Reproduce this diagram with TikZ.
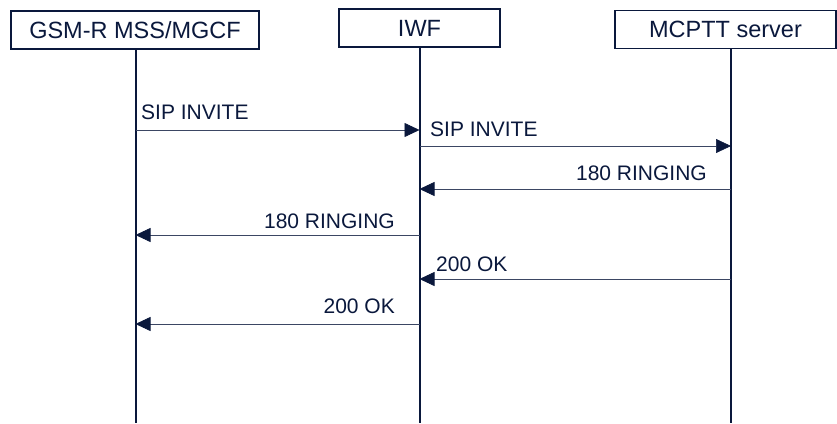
\documentclass[tikz,border=0pt]{standalone}
\usepackage{fontspec}
\setmainfont{Liberation Sans}
\usetikzlibrary{arrows.meta}
\definecolor{navy}{RGB}{10,24,60}
\tikzset{
  entity/.style={draw=navy, line width=1.5pt, text=navy, font=\fontsize{23.5}{26}\selectfont, inner sep=0pt, minimum height=38pt},
  lifeline/.style={draw=navy, line width=2pt},
  msg/.style={draw=navy!80, line width=0.6pt, -{Triangle[length=15pt,width=14pt,color=navy]}},
  msglabel/.style={text=navy, font=\fontsize{21}{24}\selectfont, inner sep=0pt},
}
\begin{document}
\begin{tikzpicture}[x=1pt, y=-1pt]
  \useasboundingbox (0,0) rectangle (837,423);

  % entities
  \node[entity, minimum width=248pt] (gsm) at (135,30) {GSM-R MSS/MGCF};
  \node[entity, minimum width=161pt] (iwf) at (419.5,28) {IWF};
  \node[entity, minimum width=221pt] (mcptt) at (725.5,29.5) {MCPTT server};

  % lifelines
  \coordinate (gsmend) at (135.5,423);
  \coordinate (iwfend) at (419.5,423);
  \coordinate (mcpttend) at (731,423);
  \draw[lifeline] (gsm.south -| gsmend) -- (gsmend);
  \draw[lifeline] (iwf.south -| iwfend) -- (iwfend);
  \draw[lifeline] (mcptt.south -| mcpttend) -- (mcpttend);

  % message points
  \coordinate (g1) at (135.5,130);  \coordinate (i1) at (419.5,130);
  \coordinate (i2) at (419.5,146);  \coordinate (m2) at (731,146);
  \coordinate (m3) at (731,189);    \coordinate (i3) at (419.5,189);
  \coordinate (i4) at (419.5,235);  \coordinate (g4) at (135.5,235);
  \coordinate (m5) at (731,279);    \coordinate (i5) at (419.5,279);
  \coordinate (i6) at (419.5,324);  \coordinate (g6) at (135.5,324);

  % messages
  \draw[msg] (g1) -- (i1);
  \node[msglabel, anchor=base west] (l1) at (141,119) {SIP INVITE};
  \draw[msg] (i2) -- (m2);
  \node[msglabel, anchor=base west] (l2) at (430,136) {SIP INVITE};
  \draw[msg] (m3) -- (i3);
  \node[msglabel, anchor=base east] (l3) at (707,180) {180 RINGING};
  \draw[msg] (i4) -- (g4);
  \node[msglabel, anchor=base east] (l4) at (395,228) {180 RINGING};
  \draw[msg] (m5) -- (i5);
  \node[msglabel, anchor=base west] (l5) at (436,271) {200 OK};
  \draw[msg] (i6) -- (g6);
  \node[msglabel, anchor=base east] (l6) at (395,313) {200 OK};
\end{tikzpicture}
\end{document}
